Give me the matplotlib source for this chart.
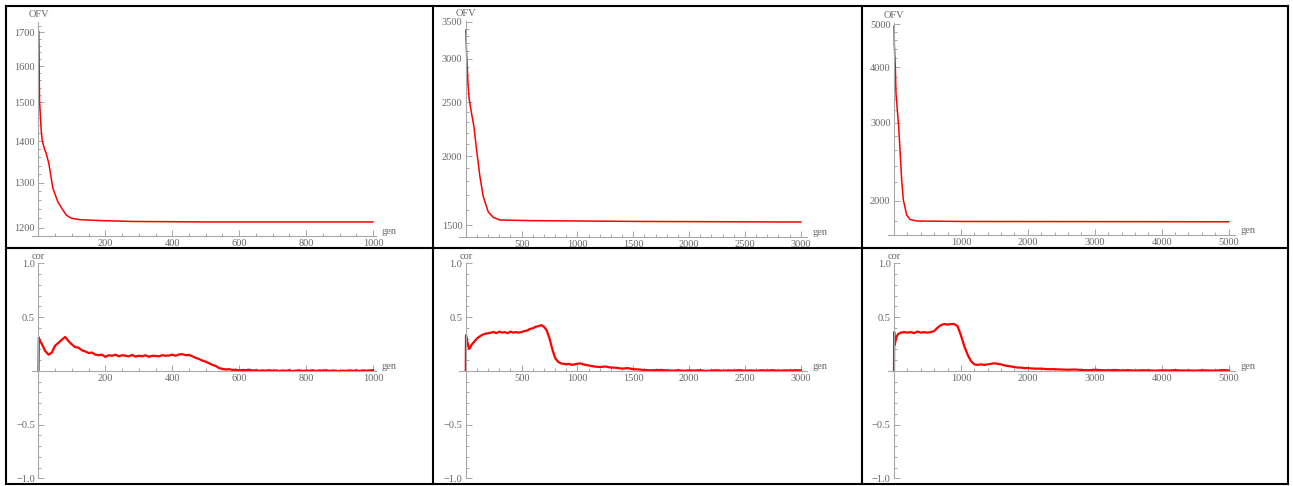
import matplotlib
matplotlib.use("Agg")
import matplotlib.pyplot as plt
from matplotlib.lines import Line2D
from matplotlib.ticker import FixedLocator, FixedFormatter, NullFormatter

# ---------------- data ----------------
ofv1_gen = [1, 3, 8, 11, 18, 23, 31, 43, 58, 73, 83, 98, 123, 183, 283, 500, 750, 1000]
ofv1_val = [1702, 1506, 1428, 1402, 1380, 1370, 1345, 1287, 1256, 1238, 1227, 1220, 1217, 1215, 1213, 1212, 1212, 1212]

ofv2_gen = [1, 5, 10, 20, 30, 50, 73, 97, 127, 157, 201, 246, 306, 575, 1500, 3000]
ofv2_val = [3380, 3150, 2983, 2700, 2540, 2400, 2260, 2050, 1834, 1688, 1585, 1549, 1532, 1528, 1523, 1519]

ofv3_gen = [1, 5, 20, 30, 50, 70, 90, 115, 140, 190, 240, 340, 1000, 5000]
ofv3_val = [4950, 4500, 4000, 3493, 3203, 2937, 2602, 2226, 2006, 1856, 1814, 1799, 1795, 1792]

cor1_gen = [0, 1, 3, 6] + list(range(10, 1001, 10))
cor1_val = [0.0, 0.31, 0.29, 0.27,
            0.25, 0.185, 0.15, 0.17, 0.235, 0.26, 0.29, 0.315, 0.275, 0.245,
            0.22, 0.215, 0.19, 0.18, 0.165, 0.17, 0.15, 0.145, 0.15, 0.13,
            0.145, 0.14, 0.15, 0.135, 0.145, 0.14, 0.135, 0.148, 0.132, 0.14,
            0.135, 0.145, 0.13, 0.14, 0.138, 0.135, 0.145, 0.14, 0.142, 0.15,
            0.14, 0.152, 0.155, 0.145, 0.148, 0.135, 0.12, 0.11, 0.095, 0.085,
            0.07, 0.055, 0.045, 0.025, 0.018, 0.012, 0.015, 0.008, 0.01, 0.004,
            0.008, 0.006, 0.01, 0.002, 0.005, 0.0, 0.004, 0.001, 0.006, 0.0,
            0.004, -0.002, 0.003, 0.0, 0.005, -0.003, 0.002, 0.004, -0.001, 0.003,
            0.0, 0.005, -0.002, 0.004, 0.001, 0.006, -0.002, 0.003, 0.0, -0.003,
            0.002, -0.001, 0.004, 0.0, 0.003, -0.002, 0.004, 0.001, 0.003, 0.006]

cor2_gen = [0, 2, 10, 20, 30, 40, 50] + list(range(75, 1101, 25)) + list(range(1150, 3001, 50))
cor2_val = [0.0, 0.33, 0.29, 0.24, 0.205, 0.215, 0.24,
            0.27, 0.30, 0.32, 0.335, 0.345, 0.35, 0.355, 0.36, 0.35, 0.365,
            0.355, 0.36, 0.35, 0.365, 0.355, 0.36, 0.355, 0.36, 0.37, 0.375,
            0.39, 0.395, 0.41, 0.415, 0.425, 0.41, 0.375, 0.30, 0.20, 0.12,
            0.085, 0.07, 0.065, 0.06, 0.065, 0.055, 0.06, 0.065, 0.07, 0.06,
            0.055, 0.05,
            0.04, 0.035, 0.04, 0.03, 0.028, 0.02, 0.025, 0.015, 0.012, 0.008,
            0.004, 0.006, 0.008, 0.004, 0.001, 0.005, 0.0, 0.004, 0.002, 0.006,
            -0.002, 0.003, 0.005, 0.0, 0.004, 0.002, 0.006, 0.001, 0.004, 0.0,
            0.005, 0.002, 0.006, 0.001, 0.004, 0.003, 0.005, 0.004]

cor3_gen = [0, 3, 10, 20, 40, 60] + list(range(100, 2001, 50)) + list(range(2100, 5001, 100))
cor3_val = [0.0, 0.36, 0.24, 0.27, 0.32, 0.34,
            0.355, 0.36, 0.355, 0.36, 0.35, 0.365, 0.355, 0.36, 0.355, 0.36,
            0.37, 0.40, 0.425, 0.435, 0.43, 0.435, 0.435, 0.415, 0.33, 0.23,
            0.15, 0.09, 0.06, 0.055, 0.06, 0.055, 0.06, 0.065, 0.07, 0.065,
            0.06, 0.05, 0.045, 0.04, 0.035, 0.03, 0.03, 0.025, 0.025,
            0.02, 0.02, 0.015, 0.015, 0.012, 0.01, 0.012, 0.008, 0.005, 0.01,
            0.006, 0.004, 0.008, 0.003, 0.006, 0.002, 0.005, 0.004, 0.001, 0.005,
            0.003, 0.006, 0.002, 0.004, 0.001, 0.005, 0.003, 0.002, 0.006, 0.004]

x_major = [[200, 400, 600, 800, 1000], [500, 1000, 1500, 2000, 2500, 3000], [1000, 2000, 3000, 4000, 5000]]
x_minor_step = [50, 100, 200]
ofv_major = [[1200, 1300, 1400, 1500, 1600, 1700], [1500, 2000, 2500, 3000, 3500], [2000, 3000, 4000, 5000]]
ofv_minor_step = [20, 100, 200]
cor_major = [-1.0, -0.5, 0.5, 1.0]
cor_labels = ["\u22121.0", "\u22120.5", "0.5", "1.0"]

# ---------------- layout (pixels) ----------------
W, H = 1293, 486
fig = plt.figure(figsize=(W / 100, H / 100), dpi=100)

def frac(l, r, t, b):
    return [l / W, 1 - b / H, (r - l) / W, (b - t) / H]

cols = [
    dict(xlim=(-20, 1010), l=31.8, r=376.3, top=(21.7, 236.0), ylim=(1182, 1732)),
    dict(xlim=(-58, 3052), l=459.3, r=806.6, top=(20.7, 236.7), ylim=(1429, 3515)),
    dict(xlim=(-85, 5095), l=888.3, r=1235.0, top=(22.7, 235.0), ylim=(1673, 5042)),
]
bottom_tb = (263.3, 478.3)

ofv_data = [(ofv1_gen, ofv1_val), (ofv2_gen, ofv2_val), (ofv3_gen, ofv3_val)]
cor_data = [(cor1_gen, cor1_val), (cor2_gen, cor2_val), (cor3_gen, cor3_val)]

AX_COL = "#a8a8a8"
TXT_COL = "#666666"
FONT = "Liberation Serif"
FS = 7.5

def style(ax):
    for s in ["top", "right"]:
        ax.spines[s].set_visible(False)
    for s in ["left", "bottom"]:
        ax.spines[s].set_color(AX_COL)
        ax.spines[s].set_linewidth(0.8)
    ax.tick_params(which="both", direction="in", color=AX_COL, labelcolor=TXT_COL,
                   labelsize=FS, width=0.7)
    ax.tick_params(which="major", length=4, pad=2.5)
    ax.tick_params(which="minor", length=2)
    for lab in ax.get_xticklabels() + ax.get_yticklabels():
        lab.set_fontfamily(FONT)
    ax.patch.set_alpha(0)

for i, c in enumerate(cols):
    # ---- top: OFV (log scale) ----
    ax = fig.add_axes(frac(c["l"], c["r"], c["top"][0], c["top"][1]))
    g, v = ofv_data[i]
    ax.plot(g, v, color="#ff0000", lw=1.1, solid_joinstyle="round")
    ax.set_yscale("log")
    ax.set_xlim(*c["xlim"])
    ax.set_ylim(*c["ylim"])
    ax.spines["left"].set_position(("data", 0))
    ax.xaxis.set_major_locator(FixedLocator(x_major[i]))
    ax.xaxis.set_major_formatter(FixedFormatter([str(t) for t in x_major[i]]))
    xm = [t for t in range(x_minor_step[i], x_major[i][-1] + 1, x_minor_step[i]) if t not in x_major[i]]
    ax.xaxis.set_minor_locator(FixedLocator(xm))
    ax.yaxis.set_major_locator(FixedLocator(ofv_major[i]))
    ax.yaxis.set_major_formatter(FixedFormatter([str(t) for t in ofv_major[i]]))
    st = ofv_minor_step[i]
    ym = [t for t in range(ofv_major[i][0] - 5 * st, ofv_major[i][-1] + 3 * st, st) if t not in ofv_major[i]]
    ax.yaxis.set_minor_locator(FixedLocator(ym))
    ax.yaxis.set_minor_formatter(NullFormatter())
    style(ax)
    ax.annotate("OFV", xy=(0, 1), xycoords=("data", "axes fraction"), xytext=(0, 2),
                textcoords="offset points", ha="center", va="bottom",
                fontsize=FS, color=TXT_COL, family=FONT)
    ax.annotate("gen", xy=(1, 0), xycoords="axes fraction", xytext=(4, 0),
                textcoords="offset points", ha="left", va="bottom",
                fontsize=FS, color=TXT_COL, family=FONT)

    # ---- bottom: cor ----
    ax2 = fig.add_axes(frac(c["l"], c["r"], bottom_tb[0], bottom_tb[1]))
    g, v = cor_data[i]
    ax2.plot(g, v, color="#ff0000", lw=1.6, solid_joinstyle="round")
    ax2.set_xlim(*c["xlim"])
    ax2.set_ylim(-1.0, 1.0)
    ax2.spines["left"].set_position(("data", 0))
    ax2.spines["bottom"].set_position(("data", 0))
    ax2.xaxis.set_major_locator(FixedLocator(x_major[i]))
    ax2.xaxis.set_major_formatter(FixedFormatter([str(t) for t in x_major[i]]))
    ax2.xaxis.set_minor_locator(FixedLocator(xm))
    ax2.yaxis.set_major_locator(FixedLocator(cor_major))
    ax2.yaxis.set_major_formatter(FixedFormatter(cor_labels))
    ax2.yaxis.set_minor_locator(FixedLocator([k / 10 for k in range(-9, 10) if k not in (-5, 0, 5)]))
    style(ax2)
    ax2.annotate("cor", xy=(0, 1), xycoords=("data", "axes fraction"), xytext=(0, 2),
                 textcoords="offset points", ha="center", va="bottom",
                 fontsize=FS, color=TXT_COL, family=FONT)
    ax2.annotate("gen", xy=(1, 0), xycoords=("axes fraction", "data"), xytext=(4, 0),
                 textcoords="offset points", ha="left", va="bottom",
                 fontsize=FS, color=TXT_COL, family=FONT)

# ---------------- table borders ----------------
def hline(y, x0, x1):
    fig.add_artist(Line2D([x0 / W, x1 / W], [1 - y / H, 1 - y / H], color="black", lw=1.5))

def vline(x, y0, y1):
    fig.add_artist(Line2D([x / W, x / W], [1 - y0 / H, 1 - y1 / H], color="black", lw=1.5))

L, R, T, B = 5.5, 1288.3, 6.5, 484.3
hline(T, L, R)
hline(247.5, L, R)
hline(B, L, R)
vline(L, T, B)
vline(432.7, T, B)
vline(862.0, T, B)
vline(R, T, B)

fig.savefig("out.png", dpi=100)
